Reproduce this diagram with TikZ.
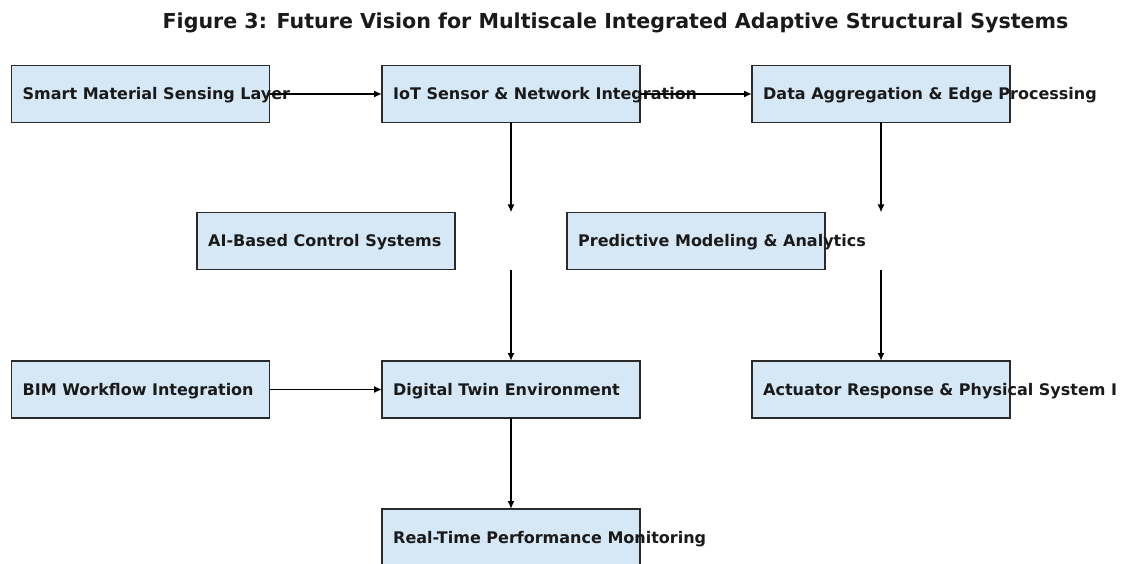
\documentclass[tikz,border=0pt]{standalone}
\usepackage{fontspec}
\setmainfont{DejaVu Sans}
\usetikzlibrary{arrows.meta}
\definecolor{boxfill}{HTML}{D6E8F6}
\definecolor{boxline}{HTML}{2A2A2A}
\definecolor{inkc}{HTML}{1A1A1A}
\begin{document}
\begin{tikzpicture}[x=1pt,y=-1pt,
  stagebox/.style={draw=boxline, line width=1.8pt, fill=boxfill,
    minimum width=258pt, minimum height=57pt, inner sep=0pt, outer sep=0pt},
  hidden/.style={minimum width=258pt, minimum height=57pt, inner sep=0pt, outer sep=0pt},
  caption/.style={anchor=west, inner sep=0pt, text=inkc,
    font=\fontsize{16}{18}\selectfont\bfseries, xshift=11pt, yshift=-1.5pt},
  flow/.style={draw=black, line width=1.8pt, -{Latex[length=8pt,width=7pt]}}]
\useasboundingbox (0,0) rectangle (1130,564);
\clip (0,0) rectangle (1130,564);
\fill[white] (0,0) rectangle (1130,564);

\node[font=\fontsize{20.6}{23}\selectfont\bfseries, text=inkc] (title) at (615.5,23)
  {Figure 3: Future Vision for Multiscale Integrated Adaptive Structural Systems};

% stages
\node[stagebox] (smart)  at (140.5,94)  {};
\node[stagebox] (iot)    at (511,94)    {};
\node[stagebox] (data)   at (881,94)    {};
\node[stagebox] (ai)     at (326,241)   {};
\node[stagebox] (pred)   at (696,241)   {};
\node[hidden]   (hubA)   at (511,241)   {};
\node[hidden]   (hubB)   at (881,241)   {};
\node[stagebox] (bim)    at (140.5,389.5) {};
\node[stagebox] (twin)   at (511,389.5) {};
\node[stagebox] (act)    at (881,389.5) {};
\node[stagebox] (rt)     at (511,537.5) {};

% labels
\node[caption] (smartL) at (smart.west) {Smart Material Sensing Layer};
\node[caption] (iotL)   at (iot.west)   {IoT Sensor \& Network Integration};
\node[caption] (dataL)  at (data.west)  {Data Aggregation \& Edge Processing};
\node[caption] (aiL)    at (ai.west)    {AI-Based Control Systems};
\node[caption] (predL)  at (pred.west)  {Predictive Modeling \& Analytics};
\node[caption] (bimL)   at (bim.west)   {BIM Workflow Integration};
\node[caption] (twinL)  at (twin.west)  {Digital Twin Environment};
\node[caption] (actL)   at (act.west)   {Actuator Response \& Physical System I};
\node[caption] (rtL)    at (rt.west)    {Real-Time Performance Monitoring};

% connectors
\draw[flow] (smart.east) -- (iot.west);
\draw[flow] (iot.east) -- (data.west);
\draw[flow] (iot.south) -- (hubA.north);
\draw[flow] (data.south) -- (hubB.north);
\draw[flow] (hubA.south) -- (twin.north);
\draw[flow] (hubB.south) -- (act.north);
\draw[flow] (bim.east) -- (twin.west);
\draw[flow] (twin.south) -- (rt.north);
\end{tikzpicture}
\end{document}
